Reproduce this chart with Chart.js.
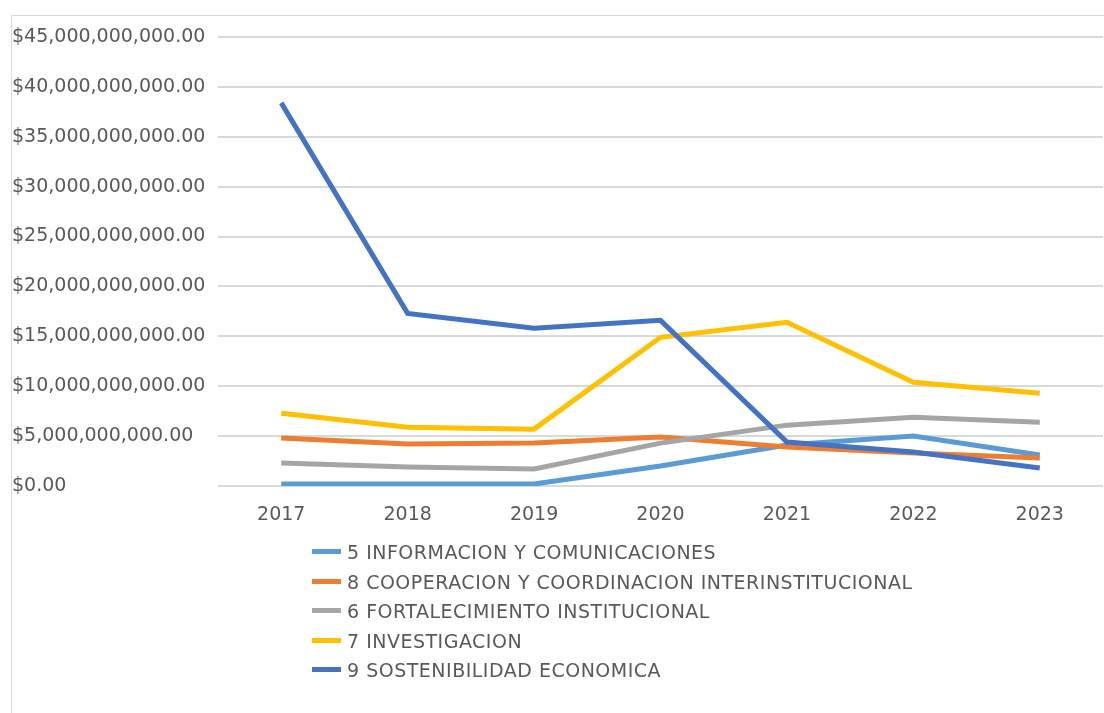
<!DOCTYPE html>
<html lang="es">
<head>
    <meta charset="UTF-8">
    <title>Gráfico de líneas</title>
    <script src="https://cdn.jsdelivr.net/npm/chart.js"></script>
    <style>
        body {
            margin: 0;
            padding: 0;
            background-color: #fff;
            font-family: "DejaVu Sans", sans-serif;
        }

        .frame {
            position: absolute;
            left: 11px;
            top: 15px;
            width: 1104px;
            height: 713px;
            border-left: 1px solid #d9d9d9;
            border-top: 1px solid #d9d9d9;
        }

        .chart-container {
            position: absolute;
            left: 0;
            top: 0;
            width: 1104px;
            height: 713px;
        }

        #legend {
            position: absolute;
            left: 312px;
            top: 538px;
            margin: 0;
            padding: 0;
            list-style: none;
            color: #595959;
            font-size: 19px;
            letter-spacing: 0.5px;
        }

        #legend li {
            height: 29.6px;
            line-height: 29.6px;
            white-space: nowrap;
        }

        #legend span.swatch {
            display: inline-block;
            width: 29px;
            height: 5px;
            vertical-align: middle;
            margin-right: 6px;
            position: relative;
            top: -2px;
        }
    </style>
</head>
<body>
<div class="frame"></div>
<div class="chart-container">
    <canvas id="lineChart" width="1104" height="713"></canvas>
</div>
<ul id="legend"></ul>

<script>
    // años
    const anios = ['2017', '2018', '2019', '2020', '2021', '2022', '2023'];

    // nombres de las series (orden de la leyenda)
    const nombresSeries = [
        '5 INFORMACION Y COMUNICACIONES',
        '8 COOPERACION Y COORDINACION INTERINSTITUCIONAL',
        '6 FORTALECIMIENTO INSTITUCIONAL',
        '7 INVESTIGACION',
        '9 SOSTENIBILIDAD ECONOMICA'
    ];

    // valores en pesos
    const informacion = [200000000, 200000000, 200000000, 2000000000, 4100000000, 5000000000, 3100000000];
    const cooperacion = [4800000000, 4200000000, 4300000000, 4900000000, 3900000000, 3300000000, 2800000000];
    const fortalecimiento = [2300000000, 1900000000, 1700000000, 4300000000, 6100000000, 6900000000, 6400000000];
    const investigacion = [7300000000, 5900000000, 5700000000, 14900000000, 16400000000, 10400000000, 9300000000];
    const sostenibilidad = [38400000000, 17300000000, 15800000000, 16600000000, 4400000000, 3400000000, 1800000000];

    const colores = ['#5B9BD5', '#ED7D31', '#A5A5A5', '#FFC000', '#4472C4'];
    const valores = [informacion, cooperacion, fortalecimiento, investigacion, sostenibilidad];

    const fmt = new Intl.NumberFormat('en-US', { minimumFractionDigits: 2, maximumFractionDigits: 2 });

    const datasets = valores.map((serie, i) => ({
        label: nombresSeries[i],
        data: serie,
        borderColor: colores[i],
        backgroundColor: colores[i],
        borderWidth: 5,
        pointRadius: 0,
        tension: 0,
        fill: false,
        // la última serie queda encima
        order: valores.length - i
    }));

    const ctx = document.getElementById('lineChart').getContext('2d');

    new Chart(ctx, {
        type: 'line',
        data: {
            labels: anios,
            datasets: datasets
        },
        options: {
            responsive: false,
            animation: false,
            layout: {
                padding: { top: 37, right: 1, left: 12, bottom: 0 }
            },
            plugins: {
                legend: { display: false },
                tooltip: { enabled: false }
            },
            scales: {
                x: {
                    offset: true,
                    grid: { display: false, drawTicks: false },
                    border: { display: false },
                    ticks: {
                        color: '#595959',
                        font: { family: 'DejaVu Sans', size: 19 },
                        padding: 18,
                        maxRotation: 0
                    },
                    afterFit: function(scale) {
                        scale.height = 227;
                    }
                },
                y: {
                    min: 0,
                    max: 45000000000,
                    grid: { color: '#d9d9d9', lineWidth: 2, drawTicks: false },
                    border: { display: false },
                    ticks: {
                        stepSize: 5000000000,
                        color: '#595959',
                        font: { family: 'DejaVu Sans', size: 19 },
                        crossAlign: 'far',
                        padding: 10,
                        callback: function(value) {
                            return '$' + fmt.format(value);
                        }
                    },
                    afterFit: function(scale) {
                        scale.width = 206;
                    }
                }
            }
        }
    });

    // leyenda como texto HTML, una serie por fila
    const legend = document.getElementById('legend');
    nombresSeries.forEach((nombre, i) => {
        const li = document.createElement('li');
        const sw = document.createElement('span');
        sw.className = 'swatch';
        sw.style.backgroundColor = colores[i];
        li.appendChild(sw);
        li.appendChild(document.createTextNode(nombre));
        legend.appendChild(li);
    });
</script>
</body>
</html>
